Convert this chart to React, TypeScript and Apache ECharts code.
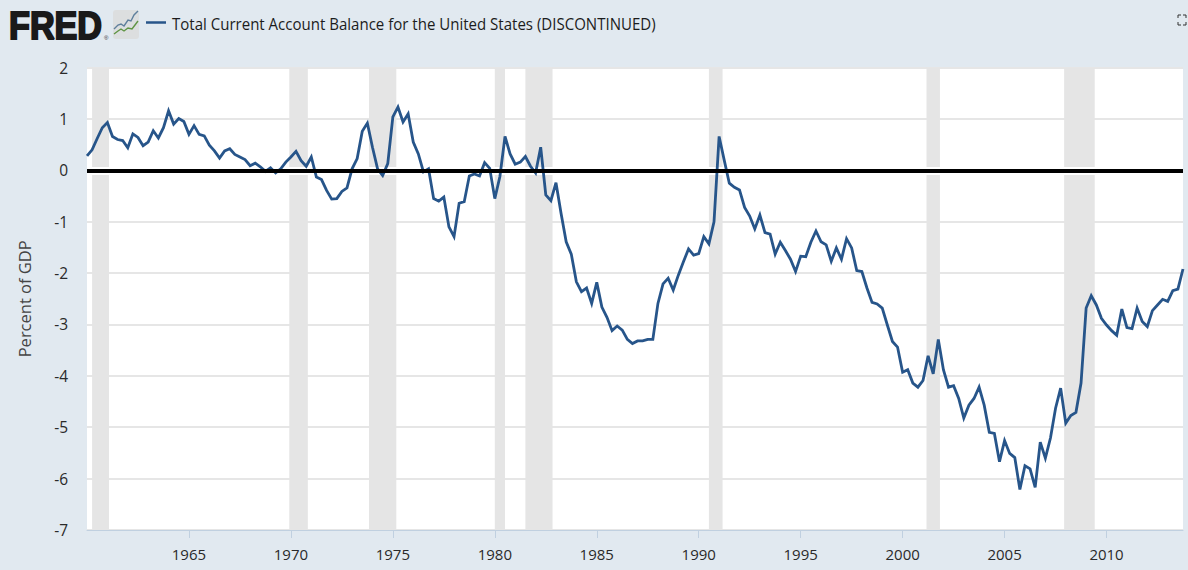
import React, { useEffect, useRef } from "react";
import * as echarts from "echarts";

const seriesName = "Total Current Account Balance for the United States (DISCONTINUED)";
const yAxisName = "Percent of GDP";
const tickYears = [1965, 1970, 1975, 1980, 1985, 1990, 1995, 2000, 2005, 2010];
const firstYear = 1960;
const values = [
  0.28, 0.4, 0.62, 0.83, 0.93, 0.66, 0.6, 0.58, 0.44, 0.71, 0.64, 0.48, 0.55, 0.77, 0.63, 0.83,
  1.16, 0.9, 1.01, 0.95, 0.7, 0.87, 0.7, 0.67, 0.49, 0.38, 0.24, 0.38, 0.42, 0.31, 0.26, 0.21,
  0.09, 0.14, 0.07, -0.02, 0.05, -0.05, 0.03, 0.16, 0.26, 0.37, 0.19, 0.08, 0.26, -0.13, -0.18, -0.39,
  -0.56, -0.55, -0.41, -0.34, 0.03, 0.23, 0.76, 0.92, 0.45, 0.03, -0.1, 0.13, 1.04, 1.23, 0.94, 1.1,
  0.55, 0.32, -0.03, 0.03, -0.55, -0.6, -0.52, -1.1, -1.29, -0.64, -0.61, -0.11, -0.07, -0.11, 0.15, 0.04,
  -0.55, -0.12, 0.66, 0.32, 0.12, 0.16, 0.27, 0.08, -0.05, 0.45, -0.48, -0.59, -0.24, -0.84, -1.39, -1.63,
  -2.17, -2.36, -2.29, -2.59, -2.18, -2.66, -2.86, -3.12, -3.03, -3.11, -3.29, -3.37, -3.32, -3.32, -3.29, -3.29,
  -2.59, -2.21, -2.1, -2.33, -2.04, -1.78, -1.53, -1.65, -1.62, -1.29, -1.43, -1.0, 0.66, 0.2, -0.25, -0.33,
  -0.38, -0.72, -0.89, -1.14, -0.87, -1.21, -1.24, -1.63, -1.4, -1.56, -1.73, -1.97, -1.67, -1.68, -1.4, -1.18,
  -1.39, -1.45, -1.77, -1.51, -1.73, -1.33, -1.51, -1.95, -1.97, -2.29, -2.57, -2.6, -2.68, -3.01, -3.33, -3.44,
  -3.93, -3.88, -4.14, -4.22, -4.09, -3.61, -3.96, -3.29, -3.88, -4.22, -4.19, -4.44, -4.82, -4.57, -4.44, -4.22,
  -4.57, -5.1, -5.12, -5.67, -5.26, -5.51, -5.59, -6.21, -5.75, -5.81, -6.17, -5.29, -5.6, -5.21, -4.63, -4.24,
  -4.92, -4.77, -4.71, -4.14, -2.68, -2.44, -2.62, -2.88, -3.01, -3.12, -3.21, -2.7, -3.06, -3.08, -2.68, -2.94,
  -3.04, -2.73, -2.62, -2.51, -2.55, -2.34, -2.31, -1.92,
];
const recessionStarts = [1960.25, 1969.92, 1973.83, 1980.0, 1981.5, 1990.5, 2001.17, 2007.92];
const recessionEnds = [1961.08, 1970.83, 1975.17, 1980.5, 1982.83, 1991.17, 2001.83, 2009.42];

const FONT = '"Open Sans", sans-serif';

export default function App() {
  const ref = useRef<HTMLDivElement>(null);
  useEffect(() => {
    document.body.style.margin = "0";
    const chart = echarts.init(ref.current!, null, { renderer: "svg" });
    const points = values.map((v, i) => [firstYear + i / 4, v]);
    chart.setOption({
      animation: false,
      backgroundColor: "#e1e9f0",
      grid: { left: 87, top: 67.6, width: 1096, height: 462.4, backgroundColor: "#ffffff", show: true, borderWidth: 0 },
      xAxis: {
        type: "value",
        min: firstYear,
        max: firstYear + 215 / 4,
        interval: 5,
        splitLine: { show: false },
        axisLine: { show: true, onZero: false, lineStyle: { color: "#c0d0e0", width: 1 } },
        axisTick: { show: true, length: 8, customValues: tickYears, lineStyle: { color: "#c0d0e0", width: 1 } },
        axisLabel: {
          customValues: tickYears,
          formatter: (v: number) => String(v),
          color: "#2a2a2a",
          fontFamily: FONT,
          fontSize: 15,
          margin: 16,
        },
      },
      yAxis: {
        type: "value",
        min: -7,
        max: 2,
        interval: 1,
        name: yAxisName,
        nameLocation: "middle",
        nameGap: 54,
        nameTextStyle: { color: "#444444", fontFamily: FONT, fontSize: 16.5 },
        axisLine: { show: false },
        axisTick: { show: false },
        splitLine: { show: true, lineStyle: { color: "#e6e6e6", width: 2 } },
        axisLabel: { color: "#2a2a2a", fontFamily: FONT, fontSize: 15.5, margin: 19 },
      },
      series: [
        {
          name: "recessions",
          type: "line",
          data: [],
          silent: true,
          z: 1,
          markArea: {
            silent: true,
            z: 1,
            itemStyle: { color: "#e5e5e5" },
            data: recessionStarts.map((s, i) => [{ xAxis: s }, { xAxis: recessionEnds[i] }]),
          },
        },
        {
          name: "zero halo",
          type: "line",
          data: [],
          silent: true,
          z: 2,
          markLine: {
            silent: true,
            z: 2,
            symbol: "none",
            label: { show: false },
            lineStyle: { color: "#ffffff", width: 8, type: "solid" },
            data: [{ yAxis: 0 }],
          },
        },
        {
          name: seriesName,
          type: "line",
          data: points,
          showSymbol: false,
          symbol: "none",
          z: 3,
          lineStyle: { color: "#27558a", width: 2.8, join: "miter" },
        },
        {
          name: "zero",
          type: "line",
          data: [],
          silent: true,
          z: 4,
          markLine: {
            silent: true,
            z: 4,
            symbol: "none",
            label: { show: false },
            lineStyle: { color: "#000000", width: 4, type: "solid" },
            data: [{ yAxis: 0 }],
          },
        },
      ],
      graphic: [
        {
          type: "text",
          x: 9,
          y: 26,
          scaleX: 0.9,
          style: {
            text: "FRED",
            font: "bold 38px 'Liberation Sans', sans-serif",
            fill: "#1a1a1a",
            stroke: "#1a1a1a",
            lineWidth: 2,
            textVerticalAlign: "middle",
          },
        },
        { type: "text", x: 104, y: 38, style: { text: "®", font: "6px 'Liberation Sans'", fill: "#333", textVerticalAlign: "middle" } },
        { type: "rect", shape: { x: 113, y: 10, width: 26, height: 29, r: 3 }, style: { fill: "#dcdedf" } },
        {
          type: "polyline",
          shape: { points: [[114, 29], [118, 25], [121, 24], [124, 26], [128, 20], [131, 21], [134, 15], [138, 11]] },
          style: { stroke: "#5f7f9c", fill: "none", lineWidth: 1.4 },
        },
        {
          type: "polyline",
          shape: { points: [[114, 34], [118, 31], [121, 29], [124, 31], [128, 28], [132, 29], [135, 25], [138, 21]] },
          style: { stroke: "#5f9443", fill: "none", lineWidth: 1.4 },
        },
        { type: "line", shape: { x1: 146, y1: 22.5, x2: 166, y2: 22.5 }, style: { stroke: "#27558a", lineWidth: 2.5 } },
        {
          type: "text",
          x: 172,
          y: 24,
          scaleX: 0.94,
          style: { text: seriesName, font: `16px ${FONT}`, fill: "#1c1c1c", textVerticalAlign: "middle" },
        },
        ...[
          [[1178, 18], [1178, 15], [1181, 15]],
          [[1183, 15], [1186, 15], [1186, 18]],
          [[1186, 22], [1186, 25], [1183, 25]],
          [[1181, 25], [1178, 25], [1178, 22]],
        ].map((pts) => ({
          type: "polyline",
          shape: { points: pts },
          style: { stroke: "#333333", fill: "none", lineWidth: 1 },
        })),
      ],
    });
    return () => chart.dispose();
  }, []);
  return <div ref={ref} style={{ position: "absolute", left: 0, top: 0, width: 1188, height: 570 }} />;
}
